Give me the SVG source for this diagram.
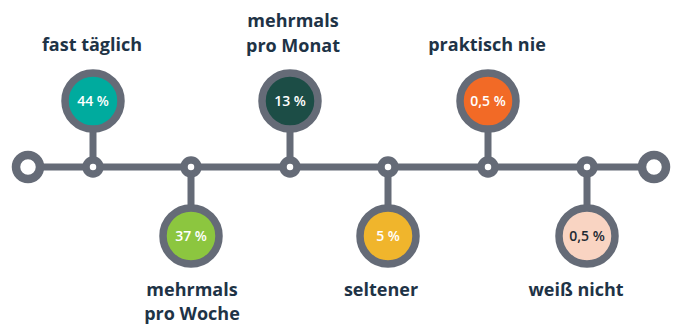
<svg xmlns="http://www.w3.org/2000/svg" width="676" height="327" viewBox="0 0 676 327">
<style>
.ln{stroke:#656b77;stroke-width:7;fill:none}
.node{stroke:#656b77;stroke-width:7.5;fill:#fff}
.big{stroke:#656b77;stroke-width:7.5}
.end{stroke:#656b77;stroke-width:8.5;fill:#fff}
.lbl{font-family:"Open Sans","Liberation Sans",sans-serif;font-weight:700;font-size:18px;fill:#1e3346;text-anchor:middle}
.pct{font-family:"Open Sans","Liberation Sans",sans-serif;font-weight:600;font-size:14px;fill:#fff;text-anchor:middle}
</style>
<rect width="676" height="327" fill="#fff"/>
<g id="connectors">
<line class="ln" x1="28" y1="167" x2="654" y2="167"/>
<line class="ln" x1="93" y1="101" x2="93" y2="167"/>
<line class="ln" x1="191" y1="167" x2="191" y2="236"/>
<line class="ln" x1="290" y1="101" x2="290" y2="167"/>
<line class="ln" x1="388" y1="167" x2="388" y2="236"/>
<line class="ln" x1="488" y1="101" x2="488" y2="167"/>
<line class="ln" x1="587" y1="167" x2="587" y2="236"/>
</g>
<g id="start"><circle class="end" cx="28" cy="167" r="12"/></g>
<g id="end"><circle class="end" cx="654" cy="167" r="12"/></g>
<g id="n1">
<circle class="node" cx="93" cy="167" r="7"/>
<circle class="big" cx="93" cy="101" r="28" fill="#00ab9e"/>
<text class="pct" x="93" y="106">44 %</text>
<text class="lbl" x="92" y="51">fast täglich</text>
</g>
<g id="n2">
<circle class="node" cx="191" cy="167" r="7"/>
<circle class="big" cx="191" cy="236" r="28" fill="#8cc63f"/>
<text class="pct" x="191" y="241">37 %</text>
<text class="lbl" x="192" y="296">mehrmals</text>
<text class="lbl" x="192" y="320">pro Woche</text>
</g>
<g id="n3">
<circle class="node" cx="290" cy="167" r="7"/>
<circle class="big" cx="290" cy="101" r="28" fill="#1c4d46"/>
<text class="pct" x="290" y="106">13 %</text>
<text class="lbl" x="293" y="27">mehrmals</text>
<text class="lbl" x="293" y="52">pro Monat</text>
</g>
<g id="n4">
<circle class="node" cx="388" cy="167" r="7"/>
<circle class="big" cx="388" cy="236" r="28" fill="#f0b52c"/>
<text class="pct" x="388" y="241">5 %</text>
<text class="lbl" x="381" y="296">seltener</text>
</g>
<g id="n5">
<circle class="node" cx="488" cy="167" r="7"/>
<circle class="big" cx="488" cy="101" r="28" fill="#f26a26"/>
<text class="pct" x="488" y="106">0,5 %</text>
<text class="lbl" x="487" y="51">praktisch nie</text>
</g>
<g id="n6">
<circle class="node" cx="587" cy="167" r="7"/>
<circle class="big" cx="587" cy="236" r="28" fill="#f9d4c2"/>
<text class="pct" x="587" y="241" style="fill:#1e2a33">0,5 %</text>
<text class="lbl" x="576" y="296">weiß nicht</text>
</g>
</svg>
